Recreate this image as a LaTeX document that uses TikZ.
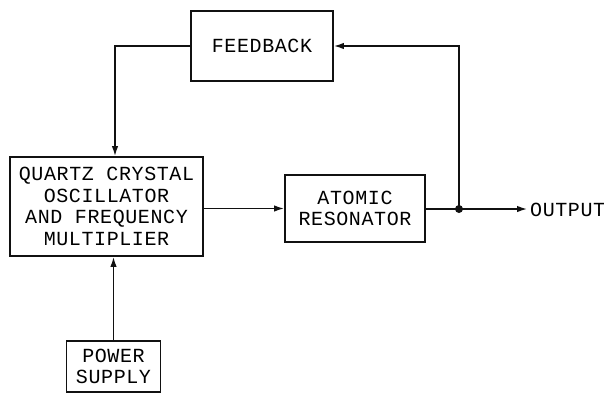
\documentclass[tikz,border=0pt]{standalone}
\usepackage{fontspec}
\usepackage{xcolor}
\usepackage{tikz}
\usetikzlibrary{arrows.meta,positioning}
\newfontfamily\blockfont[LetterSpace=3]{Liberation Mono}
\definecolor{inkblack}{HTML}{111111}

\begin{document}
\begin{tikzpicture}[x=1pt,y=-1pt,font=\blockfont\fontsize{20}{21.5}\selectfont,
  blockbox/.style={draw=inkblack,line width=1.9pt,align=center,inner sep=0pt},
  wire/.style={draw=inkblack,line width=1.4pt},
  tip/.style={-{Latex[length=10pt,width=6.5pt]}}]
  \useasboundingbox (0,0) rectangle (604,394);
  % blocks
  \node[blockbox,minimum width=142,minimum height=70] (feedback) at (262,46) {FEEDBACK};
  \node[blockbox,minimum width=193,minimum height=99] (quartz) at (106.5,206.5)
    {QUARTZ CRYSTAL\\OSCILLATOR\\AND FREQUENCY\\MULTIPLIER};
  \node[blockbox,minimum width=140,minimum height=67] (atomic) at (355,208.5)
    {ATOMIC\\RESONATOR};
  \node[blockbox,minimum width=94,minimum height=51] (power) at (113.5,366.5)
    {POWER\\SUPPLY};
  \node[anchor=west,inner sep=0pt] (out) at (530,210) {OUTPUT};
  \coordinate (tap) at (459,209);
  % connections
  \draw[wire,tip] (feedback.west) -| ([xshift=8.5]quartz.north);
  \draw[wire,tip] (power.north) -- (power.north |- quartz.south);
  \draw[wire,tip] (quartz.east |- atomic.west) -- (atomic.west);
  \draw[wire] (atomic.east |- tap) -- (tap);
  \draw[wire,tip] (tap) -- ([xshift=-3]out.west |- tap);
  \draw[wire,tip] (tap) |- (feedback.east);
  \fill[inkblack] (tap) circle (4);
\end{tikzpicture}
\end{document}
